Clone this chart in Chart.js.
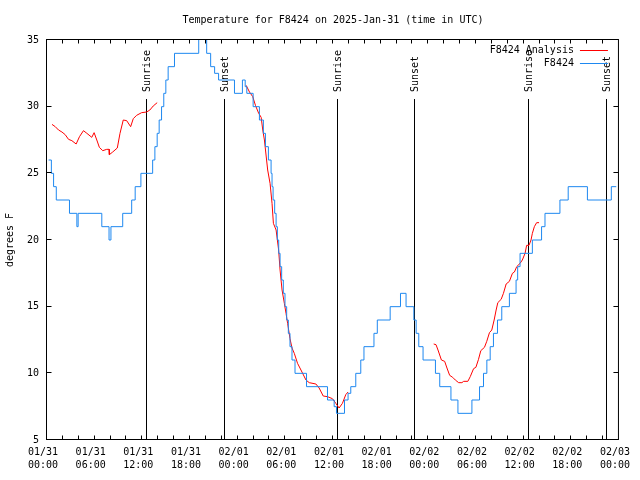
<!DOCTYPE html>
<html>
<head>
<meta charset="utf-8">
<title>Temperature for F8424</title>
<script src="https://cdn.jsdelivr.net/npm/chart.js@4.4.1/dist/chart.umd.min.js"></script>
<style>
  html, body { margin: 0; padding: 0; background: #fff; }
  canvas { display: block; }
</style>
</head>
<body>
<canvas id="tempChart" width="640" height="480"></canvas>
<script>
// x values are hours since 01/31 00:00 UTC
var xTickDates = ["01/31", "01/31", "01/31", "01/31", "02/01", "02/01", "02/01",
	"02/01", "02/02", "02/02", "02/02", "02/02", "02/03"];
var xTickTimes = ["00:00", "06:00", "12:00", "18:00", "00:00", "06:00", "12:00",
	"18:00", "00:00", "06:00", "12:00", "18:00", "00:00"];

// station readings, each value holds until the next hour in the list
var obsHours = [0.2, 0.55, 0.83, 1.17, 2.83, 3.76, 3.92, 6.9, 7.81, 8.05, 9.53, 10.66,
	11.1, 11.82, 13.3, 13.58, 13.87, 14.12, 14.42, 14.7, 14.96, 15.25, 16.05, 19.1,
	20.1, 20.6, 21.1, 21.6, 23.6, 24.6, 24.95, 25.15, 25.95, 26.74, 27.24, 27.5,
	27.87, 28.21, 28.33, 28.46, 28.66, 28.84, 29.0, 29.17, 29.34, 29.54, 29.75,
	29.96, 30.17, 30.38, 30.59, 30.84, 31.22, 32.67, 35.31, 36.15, 36.44, 37.45,
	37.9, 38.24, 38.87, 39.5, 39.9, 41.16, 41.58, 43.2, 44.5, 45.2, 46.18, 46.47,
	46.8, 47.34, 48.9, 49.44, 50.85, 51.73, 53.49, 54.45, 54.95, 55.37, 55.79,
	56.2, 56.71, 57.25, 58.21, 59.05, 59.25, 59.55, 61.1, 62.26, 62.69, 64.57,
	65.61, 68.03, 71.04, 71.66];
var obsTemps = [26, 25, 24, 23, 22, 21, 22, 21, 20, 21, 22, 23,
	24, 25, 26, 27, 28, 29, 30, 31, 32, 33, 34, 36,
	34, 33, 32.5, 32, 31, 32, 31.5, 31, 30, 29, 28, 27,
	26, 25, 24, 23, 22, 21, 20, 19, 18, 17, 16,
	15, 14, 13, 12, 11, 10, 9, 8, 7.5, 7, 8,
	8.5, 9, 10, 11, 12, 13, 14, 15, 16, 15, 14, 13,
	12, 11, 10, 9, 8, 7, 8, 9, 10, 11, 12,
	13, 14, 15, 16, 17, 18, 19, 20, 21, 22, 23,
	24, 23, 24, 24];

// analysis series, null breaks the line between runs
var anaHours = [0.63, 1.04, 1.45, 1.88, 2.29, 2.71, 3.13, 3.67, 4.09, 4.59, 5.02, 5.64,
	5.93, 6.27, 6.59, 7.02, 7.52, 7.81, 7.85, 8.27, 8.85, 9.19, 9.6, 10.03, 10.53,
	10.86, 11.28, 11.91, 12.54, 12.95, 13.37, 13.87,
	20,
	25.07, 25.49, 25.9, 26.24, 26.65, 26.96, 27.16, 27.37, 27.78, 28.08, 28.33, 28.5,
	28.84, 29.16, 29.34, 29.59, 29.88, 30.09, 30.29, 30.59, 30.84, 31.13, 31.54,
	31.97, 32.6, 33.01, 33.85, 34.26, 34.77, 35.31, 35.93, 36.36, 36.77, 37.19,
	37.61, 37.9,
	43,
	48.68, 48.97, 49.22, 49.65, 50.06, 50.35, 50.69, 51.07, 51.4, 51.82, 52.23,
	52.45, 52.98, 53.28, 53.7, 53.99, 54.32, 54.61, 55.07, 55.36, 55.7, 55.99,
	56.29, 56.54, 56.75, 57.17, 57.46, 57.8, 58.21, 58.59, 58.84, 59.13, 59.55,
	59.84, 60.18, 60.38, 60.68, 60.93, 61.1, 61.35, 61.64, 61.94];
var anaTemps = [28.67, 28.5, 28.25, 28.1, 27.9, 27.55, 27.45, 27.2, 27.75, 28.2, 28.0, 27.7,
	28.05, 27.5, 26.95, 26.7, 26.8, 26.8, 26.4, 26.6, 26.9, 28.0, 29.0, 28.95, 28.5,
	29.1, 29.35, 29.55, 29.6, 29.75, 30.05, 30.3,
	null,
	31.6, 31.1, 30.75, 30.1, 29.5, 29.2, 28.25, 27.5, 25.25, 24.25, 22.75, 21.25,
	20.75, 19.25, 17.75, 16.25, 15.25, 14.5, 13.75, 12.6, 11.9, 11.5, 10.75,
	10.25, 9.5, 9.3, 9.2, 8.9, 8.3, 8.25, 8.1, 7.75, 7.4, 7.75,
	8.4, 8.6,
	null,
	12.2, 12.15, 11.75, 11.0, 10.9, 10.4, 9.85, 9.7, 9.5, 9.3, 9.3,
	9.4, 9.4, 9.75, 10.35, 10.45, 11.05, 11.7, 11.95, 12.4, 13.05, 13.25,
	14.0, 14.75, 15.3, 15.55, 16.0, 16.7, 16.9, 17.5, 17.6, 18.0, 18.25,
	18.5, 19.0, 19.6, 19.6, 20.0, 20.5, 21.0, 21.3, 21.3];

var sunLabels = ["Sunrise", "Sunset", "Sunrise", "Sunset", "Sunrise", "Sunset"];
var sunHours = [12.61, 22.35, 36.68, 46.34, 60.68, 70.5];

var FONT = "'DejaVu Sans Mono', monospace";
Chart.defaults.font.family = FONT;
Chart.defaults.font.size = 10;
Chart.defaults.color = "#000";

function toPoints(xs, ys) {
	return xs.map(function (x, i) { return { x: x, y: ys[i] }; });
}

// gnuplot look: frame, inward ticks, sun lines, legend inside the plot
var gnuplotDecor = {
	id: "gnuplotDecor",
	beforeDatasetsDraw: function (chart) {
		var ctx = chart.ctx, area = chart.chartArea, xs = chart.scales.x;
		ctx.save();
		ctx.strokeStyle = "#000";
		ctx.fillStyle = "#000";
		ctx.lineWidth = 1;
		ctx.font = "10px " + FONT;
		for (var i = 0; i < sunHours.length; i++) {
			var px = Math.round(xs.getPixelForValue(sunHours[i])) - 0.5;
			ctx.beginPath();
			ctx.moveTo(px, area.top + 59);
			ctx.lineTo(px, area.bottom);
			ctx.stroke();
			ctx.save();
			ctx.translate(px + 1, area.top + 52);
			ctx.rotate(-Math.PI / 2);
			ctx.textAlign = "left";
			ctx.textBaseline = "middle";
			ctx.fillText(sunLabels[i], 0, 0);
			ctx.restore();
		}
		ctx.restore();
	},
	afterDraw: function (chart) {
		var ctx = chart.ctx, a = chart.chartArea, xs = chart.scales.x, ys = chart.scales.y;
		var L = a.left - 0.5, R = a.right - 0.5, T = a.top - 0.5, B = a.bottom - 0.5;
		ctx.save();
		ctx.strokeStyle = "#000";
		ctx.lineWidth = 1;
		ctx.beginPath();
		for (var h = 2; h < 72; h += 2) {
			var px = Math.round(xs.getPixelForValue(h)) - 0.5;
			ctx.moveTo(px, B); ctx.lineTo(px, B - 4);
			ctx.moveTo(px, T); ctx.lineTo(px, T + 4);
		}
		for (var v = 10; v < 35; v += 5) {
			var py = Math.round(ys.getPixelForValue(v)) - 0.5;
			ctx.moveTo(L, py); ctx.lineTo(L + 5, py);
			ctx.moveTo(R, py); ctx.lineTo(R - 5, py);
		}
		ctx.stroke();
		ctx.strokeRect(L, T, R - L, B - T);

		// legend
		ctx.font = "10px " + FONT;
		ctx.textAlign = "right";
		ctx.textBaseline = "middle";
		ctx.fillStyle = "#000";
		var rows = [0, 1];
		rows.forEach(function (i, k) {
			var ds = chart.data.datasets[i];
			var y = a.top + 10 + k * 13;
			ctx.fillText(ds.label, a.right - 45, y);
			ctx.strokeStyle = ds.borderColor;
			ctx.beginPath();
			ctx.moveTo(a.right - 39, y + 0.5);
			ctx.lineTo(a.right - 11, y + 0.5);
			ctx.stroke();
		});
		ctx.restore();
	}
};

var ctx = document.getElementById("tempChart");
var tempChart = new Chart(ctx, {
	type: "line",
	data: {
		datasets: [
			{
				label: "F8424 Analysis",
				data: toPoints(anaHours, anaTemps),
				borderColor: "#ff0000",
				borderWidth: 1,
				pointRadius: 0,
				tension: 0,
				spanGaps: false,
				order: 1
			},
			{
				label: "F8424",
				data: toPoints(obsHours, obsTemps),
				borderColor: "#1e88f0",
				borderWidth: 1,
				pointRadius: 0,
				stepped: "before",
				order: 0
			}
		]
	},
	options: {
		responsive: false,
		animation: false,
		layout: { padding: { left: 0, right: 19, top: 0, bottom: 0 } },
		plugins: {
			legend: { display: false },
			tooltip: { enabled: false },
			title: {
				display: true,
				fullSize: false,
				text: "Temperature for F8424 on 2025-Jan-31 (time in UTC)",
				font: { size: 10, weight: "normal", family: FONT },
				color: "#000",
				padding: { top: 14, bottom: 14 }
			}
		},
		scales: {
			x: {
				type: "linear",
				min: 0,
				max: 72,
				grid: { display: false, drawTicks: false },
				border: { display: false },
				ticks: {
					stepSize: 6,
					autoSkip: false,
					maxRotation: 0,
					padding: 6,
					labelOffset: -4,
					font: { size: 10, lineHeight: 1.3 },
					callback: function (value) {
						var i = Math.round(value / 6);
						return [xTickDates[i], xTickTimes[i]];
					}
				},
				afterFit: function (scale) { scale.height = 40; }
			},
			y: {
				min: 5,
				max: 35,
				grid: { display: false, drawTicks: false },
				border: { display: false },
				ticks: { stepSize: 5, padding: 8 },
				title: {
					display: true,
					text: "degrees F",
					font: { size: 10 },
					padding: { top: 4, bottom: 0 }
				},
				afterFit: function (scale) { scale.width = 47; }
			}
		}
	},
	plugins: [gnuplotDecor]
});
</script>
</body>
</html>
